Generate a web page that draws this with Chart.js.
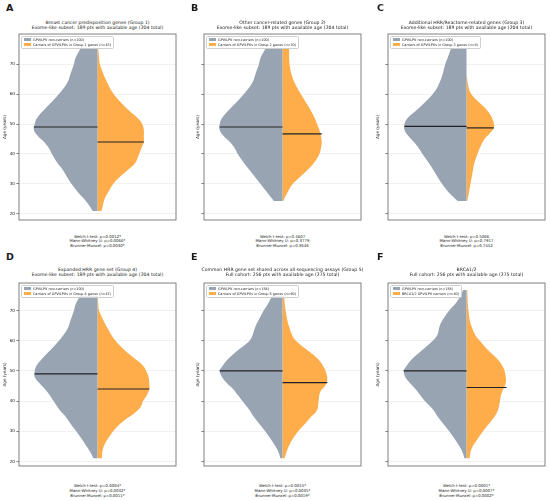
<!DOCTYPE html>
<html>
<head>
<meta charset="utf-8">
<script src="https://cdn.jsdelivr.net/npm/chart.js@4.4.1/dist/chart.umd.min.js"></script>
<style>
  body { margin: 0; background: #fff; }
  #page { position: relative; width: 550px; height: 501px; overflow: hidden; font-family: "DejaVu Sans", sans-serif; color: #1a1a1a; }
  canvas { position: absolute; }
  .letter { position: absolute; font-weight: bold; font-size: 9.5px; line-height: 1; }
  .title { position: absolute; text-align: center; font-size: 4.6px; line-height: 5.2px; white-space: nowrap; transform: translateX(-50%); }
  .stats { position: absolute; text-align: center; font-size: 3.9px; line-height: 4.8px; white-space: nowrap; transform: translateX(-50%); }
  .legend { position: absolute; border: 0.5px solid #cfcfcf; border-radius: 1.5px; background: rgba(255,255,255,0.8); padding: 0.5px 2px; font-size: 3.4px; line-height: 5px; white-space: nowrap; }
  .patch { display: inline-block; width: 7px; height: 2.6px; margin-right: 2px; vertical-align: middle; position: relative; top: -0.3px; }
</style>
</head>
<body>
<div id="page"></div>
<script>
// ---- data ----
const panelLetters = ['A', 'B', 'C', 'D', 'E', 'F'];
const titleTop = [
  'Breast cancer predisposition genes (Group 1)',
  'Other cancer-related genes (Group 2)',
  'Additional HRR/Reactome-related genes (Group 3)',
  'Expanded HRR gene set (Group 4)',
  'Common HRR gene set shared across all sequencing assays (Group 5)',
  'BRCA1/2'
];
const titleBottom = [
  'Exome-like subset: 189 pts with available age (204 total)',
  'Exome-like subset: 189 pts with available age (204 total)',
  'Exome-like subset: 189 pts with available age (204 total)',
  'Exome-like subset: 189 pts with available age (204 total)',
  'Full cohort: 256 pts with available age (275 total)',
  'Full cohort: 256 pts with available age (275 total)'
];
const nonCarrierLabels = [
  'GPV/LPV non-carriers (n=100)', 'GPV/LPV non-carriers (n=100)', 'GPV/LPV non-carriers (n=100)',
  'GPV/LPV non-carriers (n=100)', 'GPV/LPV non-carriers (n=154)', 'GPV/LPV non-carriers (n=154)'
];
const carrierLabels = [
  'Carriers of GPV/LPVs in Group 1 genes (n=43)',
  'Carriers of GPV/LPVs in Group 2 genes (n=30)',
  'Carriers of GPV/LPVs in Group 3 genes (n=8)',
  'Carriers of GPV/LPVs in Group 4 genes (n=47)',
  'Carriers of GPV/LPVs in Group 5 genes (n=60)',
  'BRCA1/2 GPV/LPV carriers (n=40)'
];
const welchP = ['0.0012*', '0.4607', '0.5066', '0.0004*', '0.0015*', '0.0001*'];
const mannWhitneyP = ['0.0066*', '0.3779', '0.7917', '0.0032*', '0.0035*', '0.0007*'];
const brunnerMunzelP = ['0.0030*', '0.3646', '0.7452', '0.0011*', '0.0019*', '0.0002*'];

const yTicks = [20, 30, 40, 50, 60, 70];

// violin half-widths (fraction of half the axis width) at given ages
const greyAges = [
  [75, 72, 70, 67, 64, 61, 58, 55, 52, 50, 48, 46, 44, 42, 40, 37, 35, 32, 30, 27, 25, 23, 21],
  [75, 72, 70, 67, 64, 61, 58, 55, 52, 50, 48, 46, 44, 42, 40, 37, 35, 32, 30, 27, 24.3],
  [75, 72, 70, 67, 64, 61, 58, 55, 52, 50, 48, 46, 44, 42, 40, 37, 35, 32, 30, 27, 24.3],
  [75, 72, 70, 67, 64, 61, 58, 55, 52, 50, 48, 46, 44, 42, 40, 37, 35, 32, 30, 27, 25, 23, 21],
  [75, 72, 70, 67, 65, 62, 60, 57, 54, 51, 50, 48, 46, 44, 42, 40, 37, 35, 32, 30, 27, 25, 23, 21],
  [76.8, 73, 70, 67, 65, 62, 60, 57, 54, 51, 50, 48, 46, 44, 42, 40, 37, 35, 32, 30, 27, 25, 23, 21]
];
const greyWidths = [
  [0.22, 0.28, 0.3, 0.34, 0.38, 0.46, 0.56, 0.67, 0.77, 0.8, 0.81, 0.76, 0.68, 0.62, 0.58, 0.51, 0.45, 0.38, 0.33, 0.24, 0.17, 0.11, 0.06],
  [0.22, 0.28, 0.3, 0.34, 0.38, 0.46, 0.56, 0.67, 0.77, 0.8, 0.8, 0.75, 0.67, 0.61, 0.57, 0.49, 0.43, 0.34, 0.28, 0.19, 0.11],
  [0.2, 0.24, 0.27, 0.3, 0.34, 0.4, 0.5, 0.62, 0.75, 0.79, 0.79, 0.74, 0.67, 0.61, 0.56, 0.48, 0.43, 0.36, 0.31, 0.22, 0.11],
  [0.22, 0.28, 0.3, 0.34, 0.38, 0.46, 0.56, 0.67, 0.77, 0.8, 0.8, 0.74, 0.67, 0.61, 0.56, 0.48, 0.41, 0.33, 0.27, 0.19, 0.14, 0.09, 0.05],
  [0.13, 0.19, 0.24, 0.3, 0.34, 0.38, 0.42, 0.56, 0.69, 0.78, 0.8, 0.77, 0.71, 0.63, 0.57, 0.51, 0.42, 0.37, 0.28, 0.22, 0.14, 0.09, 0.05, 0.025],
  [0.04, 0.12, 0.22, 0.3, 0.34, 0.37, 0.43, 0.56, 0.69, 0.78, 0.8, 0.78, 0.72, 0.65, 0.59, 0.53, 0.42, 0.37, 0.28, 0.22, 0.14, 0.09, 0.05, 0.025]
];
const orangeAges = [
  [75, 72, 70, 67, 64, 61, 58, 55, 52, 50, 48, 46, 44, 42, 40, 37, 35, 32, 30, 27, 25, 23, 21],
  [75, 72, 70, 67, 64, 61, 58, 55, 52, 50, 48, 46, 44, 42, 40, 37, 35, 32, 30, 27, 24.3],
  [66, 63, 60, 57, 54, 51, 49, 47, 45, 42, 40, 37, 35, 32, 30, 27, 24.3],
  [75, 72, 70, 67, 64, 61, 58, 55, 52, 50, 48, 46, 44, 42, 40, 38, 36, 34, 32, 30, 27, 25, 23, 21],
  [75, 72, 70, 67, 65, 62, 60, 57, 54, 51, 49, 47, 45, 43, 40, 37, 35, 32, 30, 27, 25, 23, 21],
  [76.8, 73, 70, 67, 65, 62, 60, 57, 54, 51, 48, 46, 44, 42, 39, 37, 35, 32, 30, 27, 25, 23, 21]
];
const orangeWidths = [
  [0.01, 0.02, 0.03, 0.07, 0.12, 0.18, 0.27, 0.38, 0.51, 0.57, 0.59, 0.59, 0.59, 0.56, 0.53, 0.48, 0.4, 0.27, 0.2, 0.13, 0.09, 0.07, 0.05],
  [0.085, 0.085, 0.09, 0.11, 0.15, 0.21, 0.28, 0.35, 0.41, 0.44, 0.47, 0.49, 0.5, 0.49, 0.47, 0.4, 0.33, 0.21, 0.13, 0.06, 0.01],
  [0.005, 0.02, 0.06, 0.17, 0.28, 0.34, 0.35, 0.3, 0.23, 0.17, 0.14, 0.1, 0.085, 0.065, 0.05, 0.03, 0.01],
  [0.005, 0.01, 0.02, 0.07, 0.13, 0.2, 0.3, 0.43, 0.57, 0.62, 0.65, 0.66, 0.66, 0.63, 0.58, 0.55, 0.47, 0.36, 0.27, 0.2, 0.12, 0.08, 0.06, 0.055],
  [0.02, 0.03, 0.04, 0.06, 0.08, 0.12, 0.17, 0.31, 0.45, 0.53, 0.56, 0.57, 0.54, 0.48, 0.46, 0.44, 0.37, 0.27, 0.2, 0.12, 0.08, 0.05, 0.025],
  [0.01, 0.015, 0.025, 0.04, 0.06, 0.11, 0.17, 0.27, 0.39, 0.47, 0.5, 0.5, 0.47, 0.44, 0.42, 0.4, 0.36, 0.27, 0.21, 0.13, 0.08, 0.05, 0.04]
];
const greyMedian = [49, 49, 49.2, 49, 50, 50];
const orangeMedian = [44, 46.7, 48.7, 44, 46.1, 44.5];
const greyMedianHalf = [0.81, 0.8, 0.79, 0.8, 0.8, 0.8];
const orangeMedianHalf = [0.59, 0.5, 0.35, 0.66, 0.57, 0.51];

// ---- layout ----
const GREY = '#98a4b2';
const ORANGE = '#ffac4b';
const FONT = '"DejaVu Sans", sans-serif';
const colLeft = [19, 204, 388];
const letterLeft = [6, 191, 377];
const rowTop = [33, 282];
const rowHeight = [188, 185];
const rowTitleTop = [19.8, 266.6];
const rowStatsTop = [234.6, 484.4];
const rowLetterTop = [3, 251.5];
const rowYMin = [18.0, 18.5];
const rowYMax = [80.0, 79.1];
const axisTitlePad = [2.6, 10.6, 6.3];
const boxWidth = 157;
const axisWidth = 19;

const page = document.getElementById('page');

const frame = {
  id: 'frame',
  afterDraw(chart) {
    const { ctx, chartArea: a } = chart;
    ctx.save();
    ctx.strokeStyle = '#808080';
    ctx.lineWidth = 1;
    ctx.strokeRect(a.left, a.top, a.right - a.left, a.bottom - a.top);
    ctx.restore();
  }
};

function addDiv(cls, left, top, html) {
  const d = document.createElement('div');
  d.className = cls;
  d.style.left = left + 'px';
  d.style.top = top + 'px';
  d.innerHTML = html;
  page.appendChild(d);
  return d;
}

panelLetters.forEach((letter, i) => {
  const row = Math.floor(i / 3), col = i % 3;
  const boxLeft = colLeft[col], boxTop = rowTop[row], boxH = rowHeight[row];
  const center = boxLeft + boxWidth / 2;

  addDiv('letter', letterLeft[col], rowLetterTop[row], letter);
  addDiv('title', center, rowTitleTop[row], titleTop[i] + '<br>' + titleBottom[i]);
  addDiv('stats', center, rowStatsTop[row],
    'Welch t-test: p=' + welchP[i] + '<br>Mann-Whitney U: p=' + mannWhitneyP[i] +
    '<br>Brunner-Munzel: p=' + brunnerMunzelP[i]);

  const canvas = document.createElement('canvas');
  const w = axisWidth + boxWidth + 3, h = boxH + 6;
  canvas.width = w; canvas.height = h;
  canvas.style.left = (boxLeft - axisWidth) + 'px';
  canvas.style.top = (boxTop - 3) + 'px';
  canvas.style.width = w + 'px';
  canvas.style.height = h + 'px';
  page.appendChild(canvas);

  const showLabels = col === 0;

  new Chart(canvas.getContext('2d'), {
    type: 'line',
    data: {
      datasets: [
        {
          data: [{ x: -greyMedianHalf[i], y: greyMedian[i] }, { x: 0, y: greyMedian[i] }],
          borderColor: '#222', borderWidth: 1.2, pointRadius: 0, fill: false
        },
        {
          data: [{ x: 0, y: orangeMedian[i] }, { x: orangeMedianHalf[i], y: orangeMedian[i] }],
          borderColor: '#222', borderWidth: 1.2, pointRadius: 0, fill: false
        },
        {
          label: nonCarrierLabels[i],
          data: greyAges[i].map((a, k) => ({ x: -greyWidths[i][k], y: a })),
          backgroundColor: GREY, borderWidth: 0, pointRadius: 0, fill: 'origin', tension: 0.4
        },
        {
          label: carrierLabels[i],
          data: orangeAges[i].map((a, k) => ({ x: orangeWidths[i][k], y: a })),
          backgroundColor: ORANGE, borderWidth: 0, pointRadius: 0, fill: 'origin', tension: 0.4
        }
      ]
    },
    options: {
      indexAxis: 'y',
      responsive: false,
      animation: false,
      layout: { padding: { left: 0, top: 3, right: 3, bottom: 3 } },
      plugins: { legend: { display: false }, tooltip: { enabled: false } },
      scales: {
        x: { type: 'linear', min: -1, max: 1, display: false },
        y: {
          type: 'linear',
          min: rowYMin[row],
          max: rowYMax[row],
          afterBuildTicks: (s) => { s.ticks = yTicks.map(v => ({ value: v })); },
          afterFit: (s) => { s.width = axisWidth; },
          ticks: {
            font: { family: FONT, size: 4.2 },
            color: '#222',
            padding: 1.5,
            callback: (v) => showLabels ? v : ''
          },
          grid: { color: '#ebebeb', lineWidth: 0.7, tickLength: 2.5, tickColor: '#444', tickWidth: 0.7 },
          border: { display: false },
          title: {
            display: true,
            text: 'Age (years)',
            font: { family: FONT, size: 4.2 },
            color: '#222',
            padding: { top: axisTitlePad[col], bottom: 0 }
          }
        }
      }
    },
    plugins: [frame]
  });

  addDiv('legend', boxLeft + 2, boxTop + 3,
    '<div><span class="patch" style="background:' + GREY + '"></span>' + nonCarrierLabels[i] + '</div>' +
    '<div><span class="patch" style="background:' + ORANGE + '"></span>' + carrierLabels[i] + '</div>');
});
</script>
</body>
</html>
